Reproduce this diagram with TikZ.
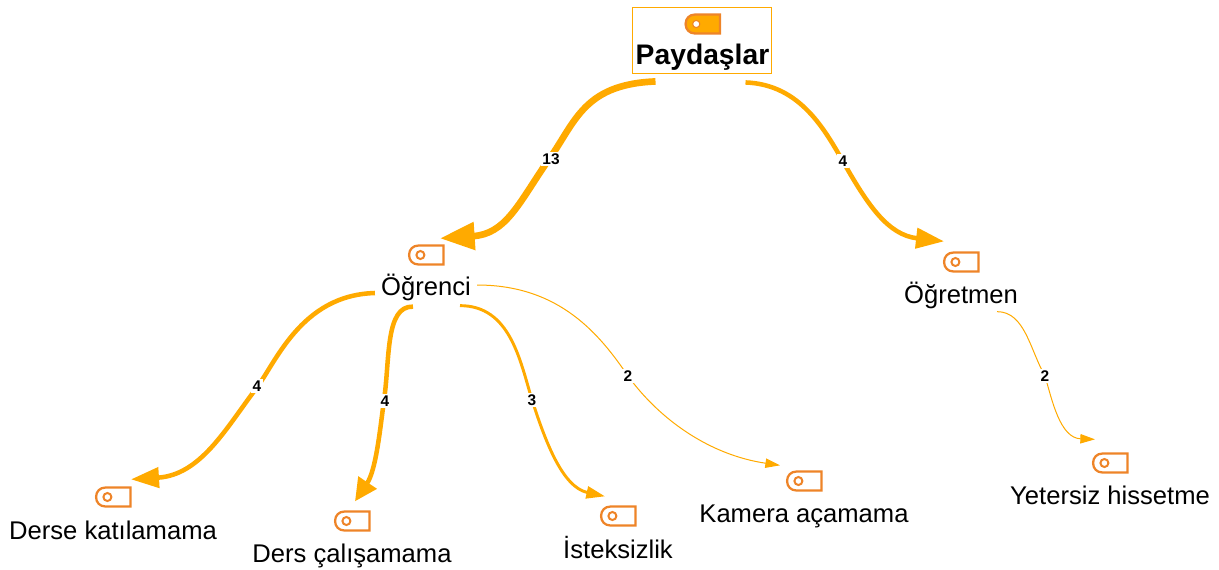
\documentclass[tikz,border=0pt]{standalone}
\usepackage{fontspec}
\setmainfont{Liberation Sans}
\usetikzlibrary{arrows.meta,calc}
\definecolor{edgeor}{HTML}{FFAA00}
\definecolor{iconor}{HTML}{EE8428}
\definecolor{iconfill}{HTML}{FFAA00}
\tikzset{
  x=0.75pt,y=-0.75pt,
  tagicon/.style={minimum width=27.4pt,minimum height=16pt,inner sep=0pt,outer sep=0pt},
  lbl/.style={font=\fontsize{19.2}{22}\selectfont,inner sep=0pt,anchor=center,text=black},
  toplbl/.style={font=\fontsize{21.2}{24}\selectfont\bfseries,inner sep=0pt,anchor=center,text=black},
  cnt/.style={font=\fontsize{11.6}{13}\selectfont\bfseries,fill=white,inner sep=1.2pt,text=black},
  rootbox/.style={draw=edgeor,line width=0.75pt,minimum width=104.5pt,minimum height=50pt,inner sep=0pt},
  lnk/.style={draw=edgeor,line cap=butt},
  w13/.style={lnk,line width=5pt,-{Triangle[length=26pt,width=20pt]}},
  w4/.style={lnk,line width=3.4pt,-{Triangle[length=21pt,width=15pt]}},
  w4b/.style={lnk,line width=3.4pt,-{Triangle[length=17pt,width=16pt]}},
  w3/.style={lnk,line width=2.2pt,-{Triangle[length=14pt,width=9pt]}},
  w2/.style={lnk,line width=0.75pt,-{Triangle[length=11pt,width=7pt]}},
}
\newcommand{\tagat}[4][none]{% fill, name, x, y
  \node[tagicon] (#2) at (#3,#4) {};
  \draw[iconor,line width=1.7pt,fill=#1]
    ($(#2.north east)+(-0.6pt,-0.9pt)$) -- ($(#2.south east)+(-0.6pt,0.9pt)$) --
    ($(#2.south west)+(8pt,0.9pt)$) .. controls ($(#2.south west)+(3.8pt,0.9pt)$) and ($(#2.south west)+(1pt,3.9pt)$) ..
    ($(#2.south west)+(1pt,8pt)$) .. controls ($(#2.north west)+(1pt,-3.9pt)$) and ($(#2.north west)+(3.8pt,-0.9pt)$) ..
    ($(#2.north west)+(8pt,-0.9pt)$) -- cycle;
}
\begin{document}
\begin{tikzpicture}
\useasboundingbox (0,0) rectangle (1219,569);
% root
\node[rootbox] (rootframe) at (702,40.5) {};
\tagat[iconfill]{iroot}{702.5}{24}
\fill[white] ($(iroot.west)+(9pt,0)$) circle[radius=2.5pt];
\draw[iconor,line width=0.8pt] ($(iroot.west)+(9pt,0)$) circle[radius=2.7pt];
\node[toplbl] (root) at (702.5,57) {Paydaşlar};
% others
\tagat{iogr}{426}{255}
\draw[iconor,line width=1.5pt] ($(iogr.west)+(9.5pt,0)$) circle[radius=3pt];
\node[lbl] (ogr) at (426,287) {Öğrenci};
\tagat{iogm}{961}{262}
\draw[iconor,line width=1.5pt] ($(iogm.west)+(9.5pt,0)$) circle[radius=3pt];
\node[lbl] (ogm) at (961,295) {Öğretmen};
\tagat{ider}{113}{497}
\draw[iconor,line width=1.5pt] ($(ider.west)+(9.5pt,0)$) circle[radius=3pt];
\node[lbl] (der) at (113,530) {Derse katılamama};
\tagat{ical}{352}{521}
\draw[iconor,line width=1.5pt] ($(ical.west)+(9.5pt,0)$) circle[radius=3pt];
\node[lbl] (cal) at (352,556) {Ders çalışamama};
\tagat{iist}{618}{516}
\draw[iconor,line width=1.5pt] ($(iist.west)+(9.5pt,0)$) circle[radius=3pt];
\node[lbl] (ist) at (618,548) {İsteksizlik};
\tagat{ikam}{804}{481}
\draw[iconor,line width=1.5pt] ($(ikam.west)+(9.5pt,0)$) circle[radius=3pt];
\node[lbl] (kam) at (804,516) {Kamera açamama};
\tagat{iyet}{1110}{463}
\draw[iconor,line width=1.5pt] ($(iyet.west)+(9.5pt,0)$) circle[radius=3pt];
\node[lbl] (yet) at (1110,495) {Yetersiz hissetme};
% connectors
\draw[w13] ($(root.south)+(-47,11)$) .. controls +(-75,3) and (575,125) .. (545,165)
  .. controls (518,205) and (505,234) .. ($(iogr.north)+(14,-6)$);
\draw[w4] ($(root.south)+(43,12)$) .. controls +(55,2) and (825,130) .. (845,165)
  .. controls (868,205) and (888,235) .. ($(iogm.north)+(-17,-10)$);
\draw[w4] ($(ogr.west)+(-6,6)$) .. controls +(-75,2) and (275,365) .. (255,390)
  .. controls (225,430) and (200,475) .. ($(ider.north)+(18,-7)$);
\draw[w4b] ($(ogr.south)+(-13,6)$) .. controls +(-28,-1) and (390,360) .. (384,400)
  .. controls (380,430) and (376,470) .. ($(ical.north)+(3,-9)$);
\draw[w3] ($(ogr.south)+(34,5)$) .. controls +(50,0) and (520,360) .. (532,400)
  .. controls (545,440) and (562,487) .. ($(iist.north)+(-13,-9)$);
\draw[w2] ($(ogr.east)+(6,-2)$) .. controls +(83,0) and (600,335) .. (628,376)
  .. controls (660,420) and (710,455) .. ($(ikam.north)+(-24,-5)$);
\draw[w2] ($(ogm.south)+(36,3)$) .. controls +(28,0) and (1030,350) .. (1045,376)
  .. controls (1052,400) and (1060,438) .. ($(iyet.north)+(-15,-13)$);
% counts
\node[cnt] (c1) at (551,159) {13};
\node[cnt] (c2) at (843,161) {4};
\node[cnt] (c3) at (257,386) {4};
\node[cnt] (c4) at (385,401) {4};
\node[cnt] (c5) at (532,400) {3};
\node[cnt] (c6) at (628,376) {2};
\node[cnt] (c7) at (1045,376) {2};
\end{tikzpicture}
\end{document}
